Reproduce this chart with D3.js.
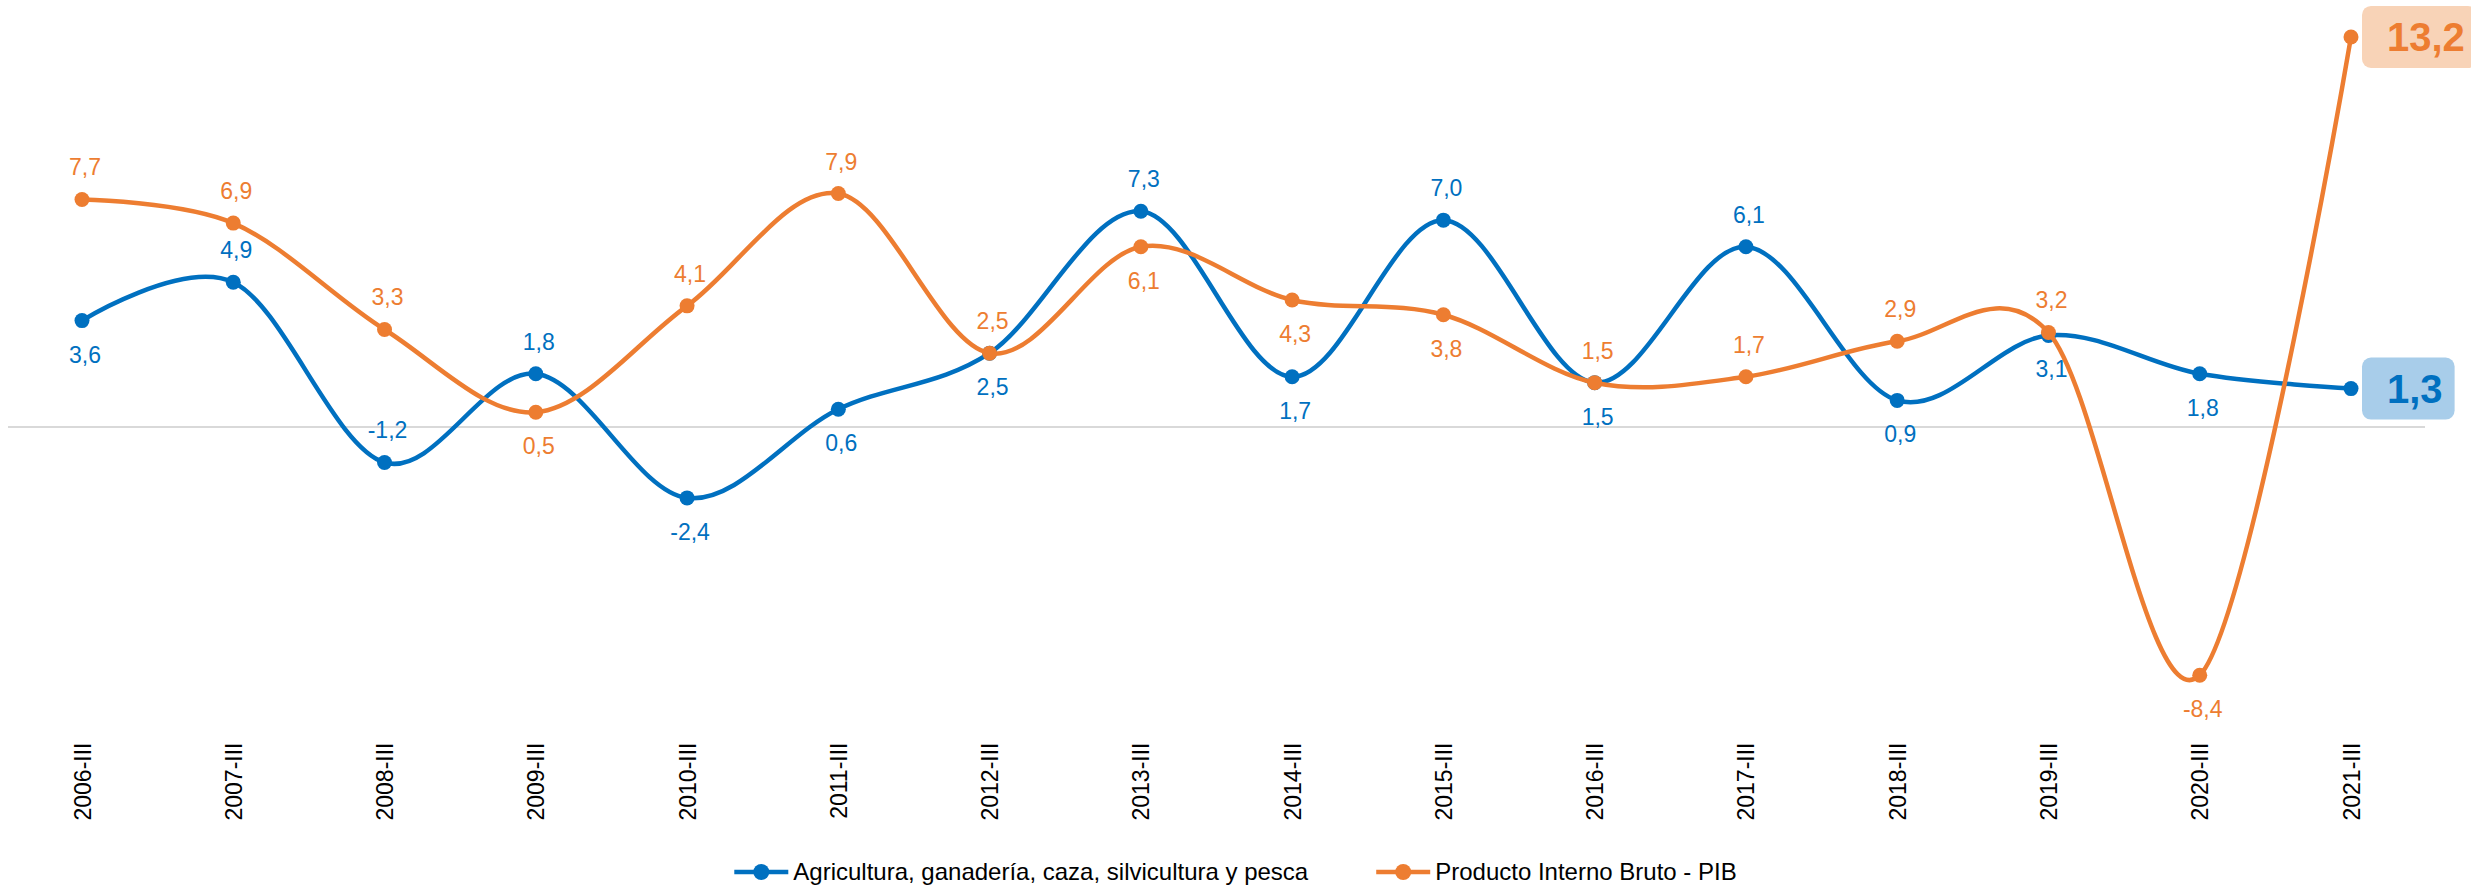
<!DOCTYPE html>
<meta charset="utf-8">
<style>
body { margin: 0; background: #fff; }
text { font-family: "Liberation Sans", Arial, sans-serif; }
.line { fill: none; stroke-width: 4.5px; }
</style>
<svg id="chart" width="2471" height="886"></svg>
<script src="https://cdn.jsdelivr.net/npm/d3@7"></script>
<script>
// categories and series
var periods = ["2006-III", "2007-III", "2008-III", "2009-III", "2010-III", "2011-III", "2012-III", "2013-III",
               "2014-III", "2015-III", "2016-III", "2017-III", "2018-III", "2019-III", "2020-III", "2021-III"];
var agro = [3.6, 4.9, -1.2, 1.8, -2.4, 0.6, 2.5, 7.3, 1.7, 7.0, 1.5, 6.1, 0.9, 3.1, 1.8, 1.3];
var pib  = [7.7, 6.9, 3.3, 0.5, 4.1, 7.9, 2.5, 6.1, 4.3, 3.8, 1.5, 1.7, 2.9, 3.2, -8.4, 13.2];
var seriesNames = ["Agricultura, ganadería, caza, silvicultura y pesca", "Producto Interno Bruto - PIB"];

// where the value labels sit: a = above the point, b = below
var agroPos = ["b", "a", "a", "a", "b", "b", "b", "a", "b", "a", "b", "a", "b", "b", "b"];
var pibPos  = ["a", "a", "a", "b", "a", "a", "a", "b", "b", "b", "a", "a", "a", "a", "b"];

var w = 2471, h = 886;
var blue = "#0070C0", orange = "#ED7D31";

var locale = d3.formatLocale({decimal: ",", thousands: ".", grouping: [3], currency: ["", ""], minus: "-"});
var fmt = locale.format(".1f");

var x = d3.scalePoint()
    .domain(periods)
    .range([82, 2351]);
var y = d3.scaleLinear()
    .domain([-10, 14])
    .range([722.5, 13.3]);

var line = d3.line()
    .curve(d3.curveCardinal.tension(0))
    .x(function(d, i) { return x(periods[i]); })
    .y(function(d) { return y(d); });

var svg = d3.select("#chart");

// zero line
svg.append("line")
    .attr("x1", 8).attr("x2", 2425)
    .attr("y1", y(0)).attr("y2", y(0))
    .attr("stroke", "#D9D9D9")
    .attr("stroke-width", 2);

// category axis, labels rotated
var axis = svg.append("g")
    .attr("transform", "translate(0," + y(-10) + ")")
    .call(d3.axisBottom(x).tickSize(0));
axis.select(".domain").remove();
axis.selectAll("text")
    .attr("x", -20)
    .attr("y", 0)
    .attr("dy", "0.35em")
    .attr("transform", "rotate(-90)")
    .style("text-anchor", "end")
    .style("font-size", "23px")
    .style("font-family", "'Liberation Sans', Arial, sans-serif")
    .attr("fill", "#000");

function drawSeries(values, color, pos, boxFill) {
  var g = svg.append("g");
  g.append("path")
      .datum(values)
      .attr("class", "line")
      .attr("stroke", color)
      .attr("d", line);
  g.selectAll("circle")
      .data(values)
    .enter().append("circle")
      .attr("cx", function(d, i) { return x(periods[i]); })
      .attr("cy", function(d) { return y(d); })
      .attr("r", 7.5)
      .attr("fill", color);
  g.selectAll("text.lbl")
      .data(values.slice(0, values.length - 1))
    .enter().append("text")
      .attr("class", "lbl")
      .attr("x", function(d, i) { return x(periods[i]) + 3; })
      .attr("y", function(d, i) { return y(d) + (pos[i] == "a" ? -24 : 42); })
      .attr("text-anchor", "middle")
      .attr("fill", color)
      .style("font-size", "23px")
      .text(function(d) { return fmt(d); });

  // highlighted last value
  var last = values.length - 1;
  var lx = x(periods[last]) + 36, ly = y(values[last]);
  var box = g.append("rect").attr("rx", 9).attr("ry", 9).attr("fill", boxFill);
  var t = g.append("text")
      .attr("x", lx)
      .attr("y", ly)
      .attr("dy", "0.36em")
      .attr("fill", color)
      .style("font-size", "40px")
      .style("font-weight", "bold")
      .text(fmt(values[last]));
  var bb = t.node().getBBox();
  box.attr("x", lx - 25)
     .attr("y", ly - 31)
     .attr("width", bb.width + 37)
     .attr("height", 62);
}

drawSeries(agro, blue, agroPos, "#A8CDEA");
drawSeries(pib, orange, pibPos, "#F8D3B7");

// legend
var legend = svg.append("g");
var items = [{name: seriesNames[0], color: blue}, {name: seriesNames[1], color: orange}];
var lx = 0;
items.forEach(function(it, i) {
  var g = legend.append("g").attr("transform", "translate(" + lx + ",0)");
  g.append("line")
      .attr("x1", 0).attr("x2", 54)
      .attr("y1", 0).attr("y2", 0)
      .attr("stroke", it.color)
      .attr("stroke-width", 4.5);
  g.append("circle")
      .attr("cx", 27).attr("cy", 0).attr("r", 8)
      .attr("fill", it.color);
  var t = g.append("text")
      .attr("x", 59)
      .attr("dy", "0.35em")
      .attr("fill", "#000")
      .style("font-size", "24px")
      .text(it.name);
  lx += 59 + t.node().getComputedTextLength() + 68;
});
var lw = lx - 68;
legend.attr("transform", "translate(" + ((w - lw) / 2) + ",872)");
</script>
